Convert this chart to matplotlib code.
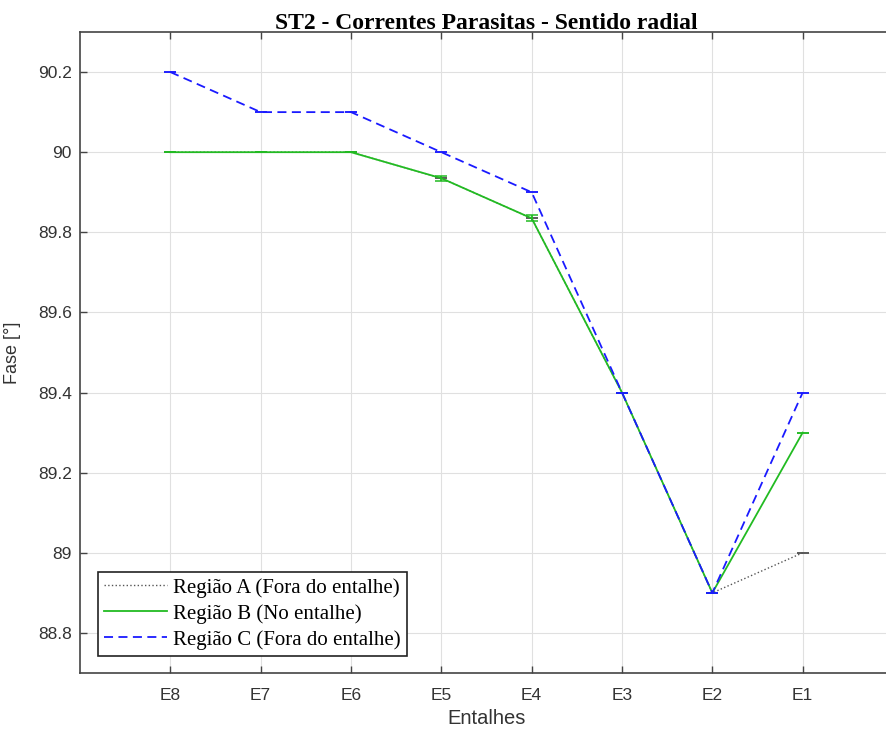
import matplotlib
matplotlib.use("Agg")
import matplotlib.pyplot as plt
from matplotlib.lines import Line2D
import numpy as np

categories = ["E8", "E7", "E6", "E5", "E4", "E3", "E2", "E1"]
regiao_a = [90.0, 90.0, 90.0, 89.935, 89.835, 89.4, 88.9, 89.0]
regiao_b = [90.0, 90.0, 90.0, 89.935, 89.835, 89.4, 88.9, 89.3]
regiao_c = [90.2, 90.1, 90.1, 90.0, 89.9, 89.4, 88.9, 89.4]
err_a = [0.0, 0.0, 0.0, 0.0, 0.0, 0.0, 0.0, 0.0]
err_b = [0.0, 0.0, 0.0, 0.006, 0.008, 0.0, 0.0, 0.0]
err_c = [0.0, 0.0, 0.0, 0.0, 0.0, 0.0, 0.0, 0.0]
labels = ["Região A (Fora do entalhe)", "Região B (No entalhe)", "Região C (Fora do entalhe)"]

W, H = 886, 738
fig = plt.figure(figsize=(W / 100, H / 100), dpi=100)
left, right, top, bottom = 80, 893, 32, 673
ax = fig.add_axes([left / W, 1 - bottom / H, (right - left) / W, (bottom - top) / H])

x = np.arange(1, len(categories) + 1)
cap = 4.5
styles = [
    dict(color="#555555", ls=":", lw=1.0),
    dict(color="#22bb22", ls="-", lw=1.3),
    dict(color="#1a1aff", ls=(0, (5, 3)), lw=1.3),
]
for i, (vals, errs) in enumerate([(regiao_a, err_a), (regiao_b, err_b), (regiao_c, err_c)]):
    ax.errorbar(x, vals, yerr=errs, capsize=cap, capthick=1.1, zorder=3 + i, **styles[i])

ax.set_xlim(0, 9)
ax.set_ylim(88.7, 90.3)
ax.set_xticks(x)
ax.set_xticklabels(categories)
ax.set_yticks([88.8, 89.0, 89.2, 89.4, 89.6, 89.8, 90.0, 90.2])
ax.set_yticklabels(["88.8", "89", "89.2", "89.4", "89.6", "89.8", "90", "90.2"])

ax.grid(True, color="#e0e0e0", lw=0.8)
ax.set_axisbelow(True)
for s in ax.spines.values():
    s.set_color("#444444")
    s.set_linewidth(1.2)
ax.tick_params(direction="in", length=5, width=1, colors="#444444",
               labelcolor="#333333", labelsize=12.5, top=True, right=True)
for lbl in ax.get_xticklabels() + ax.get_yticklabels():
    lbl.set_family("Liberation Sans")
ax.tick_params(axis="x", pad=11)
ax.tick_params(axis="y", pad=6)

ax.set_xlabel("Entalhes", fontsize=14.5, family="Liberation Sans", color="#333333", labelpad=4)
ax.set_ylabel("Fase [°]", fontsize=13, family="Liberation Sans", color="#333333", labelpad=12)
ax.set_title("ST2 - Correntes Parasitas - Sentido radial", fontsize=17,
             family="Liberation Serif", weight="bold", pad=2)

handles = [Line2D([], [], **st) for st in styles]
leg = ax.legend(handles, labels, loc="lower left",
                bbox_to_anchor=((98 - left) / (right - left), (673 - 656) / (bottom - top)),
                prop={"family": "Liberation Serif", "size": 15}, frameon=True, fancybox=False,
                borderpad=0.3, labelspacing=0.3, handlelength=3.0, handletextpad=0.3,
                borderaxespad=0)
leg.get_frame().set_edgecolor("#222222")
leg.get_frame().set_linewidth(1.2)
leg.get_frame().set_alpha(1)

fig.savefig("out.png", dpi=100)
